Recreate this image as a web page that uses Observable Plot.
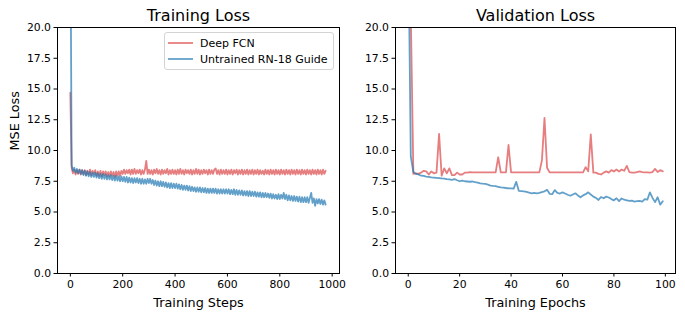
<!DOCTYPE html>
<html><head><meta charset="utf-8">
<script src="https://cdn.jsdelivr.net/npm/d3@7"></script>
<script src="https://cdn.jsdelivr.net/npm/@observablehq/plot@0.6"></script>
<style>
body{margin:0;background:#fff;font-family:"DejaVu Sans",sans-serif;}
#wrap{position:relative;width:685px;height:317px;overflow:hidden;}
#left,#right{position:absolute;top:0;}
#left{left:0;}
#right{left:342px;}
#legend{position:absolute;left:164px;top:32px;width:168px;height:36px;border:1px solid #d4d4d4;border-radius:3px;background:rgba(255,255,255,0.85);font-family:"DejaVu Sans",sans-serif;font-size:11px;color:#000;}
#legend .row{position:absolute;left:0;height:14px;display:flex;align-items:center;}
#legend svg{margin-left:3px;margin-right:7px;}
</style></head><body>
<div id="wrap"><div id="left"></div><div id="right"></div><div id="legend"></div></div>
<script>
const seriesNames = ["Deep FCN", "Untrained RN-18 Guide"];
const seriesColors = ["#d62728", "#1f77b4"];
const seriesOpacity = [0.6, 0.7];
const titles = ["Training Loss", "Validation Loss"];
const xLabels = ["Training Steps", "Training Epochs"];
const yLabel = "MSE Loss";
const yTicks = [0, 2.5, 5, 7.5, 10, 12.5, 15, 17.5, 20];
const trainXTicks = [0, 200, 400, 600, 800, 1000];
const valXTicks = [0, 20, 40, 60, 80, 100];
const trainStepInterval = 5; // one value every 5 training steps

// Training loss, Deep FCN (steps 0,5,10,...,975)
const trainFCN = [
14.7, 8.6, 8.15, 8.45, 8.05, 8.4, 8.1, 8.45, 8.05, 8.4,
8.1, 8.4, 8.0, 8.35, 8.05, 8.45, 8.0, 8.35, 8.1, 8.4,
7.95, 8.3, 7.95, 8.35, 7.9, 8.3, 8.0, 8.3, 7.9, 8.25,
7.9, 8.3, 7.95, 8.25, 7.85, 8.3, 7.95, 8.3, 7.95, 8.35,
8.1, 8.45, 8.1, 8.4, 8.15, 8.45, 8.05, 8.45, 8.1, 8.5,
8.1, 8.4, 8.15, 8.45, 8.05, 8.4, 8.1, 8.45, 9.15, 8.1,
8.45, 8.1, 8.4, 8.05, 8.45, 8.15, 8.5, 8.1, 8.4, 8.05,
8.45, 8.1, 8.4, 8.15, 8.5, 8.05, 8.4, 8.1, 8.45, 8.1,
8.4, 8.05, 8.45, 8.1, 8.5, 8.1, 8.4, 8.05, 8.45, 8.15,
8.4, 8.1, 8.45, 8.05, 8.4, 8.1, 8.5, 8.1, 8.45, 8.05,
8.4, 8.1, 8.45, 8.15, 8.4, 8.05, 8.45, 8.1, 8.4, 8.1,
8.45, 8.55, 8.1, 8.4, 8.05, 8.45, 8.1, 8.4, 8.1, 8.45,
8.05, 8.4, 8.1, 8.45, 8.05, 8.4, 8.15, 8.45, 8.05, 8.4,
8.1, 8.45, 8.05, 8.4, 8.1, 8.45, 8.05, 8.4, 8.1, 8.45,
8.05, 8.4, 8.1, 8.45, 8.05, 8.4, 8.1, 8.35, 8.05, 8.45,
8.1, 8.4, 8.05, 8.45, 8.1, 8.4, 8.05, 8.45, 8.1, 8.4,
8.05, 8.45, 8.1, 8.4, 8.05, 8.45, 8.1, 8.4, 8.05, 8.45,
8.1, 8.4, 8.05, 8.45, 8.1, 8.4, 8.05, 8.45, 8.1, 8.4,
8.05, 8.45, 8.1, 8.4, 8.05, 8.45, 8.1, 8.4, 8.05, 8.45,
8.1, 8.4, 8.05, 8.45, 8.1, 8.35
];

// Training loss, Untrained RN-18 Guide (steps 0,5,10,...,975)
const trainRN18 = [
30, 8.8, 8.35, 8.6, 8.2, 8.5, 8.15, 8.45, 8.1, 8.4,
8.0, 8.35, 7.95, 8.3, 7.9, 8.25, 7.85, 8.2, 7.85, 8.2,
7.8, 8.15, 7.75, 8.1, 7.7, 8.1, 7.7, 8.05, 7.65, 8.0,
7.65, 8.0, 7.6, 7.95, 7.55, 7.95, 7.55, 7.9, 7.5, 7.9,
7.5, 7.85, 7.45, 7.85, 7.4, 7.8, 7.4, 7.75, 7.35, 7.75,
7.4, 7.75, 7.35, 7.7, 7.3, 7.7, 7.3, 7.65, 7.3, 7.7,
7.35, 7.7, 7.3, 7.6, 7.2, 7.55, 7.15, 7.5, 7.1, 7.5,
7.1, 7.45, 7.05, 7.4, 7.0, 7.35, 6.95, 7.35, 6.95, 7.3,
6.95, 7.3, 6.9, 7.25, 6.85, 7.2, 6.8, 7.15, 6.8, 7.15,
6.75, 7.1, 6.7, 7.05, 6.7, 7.0, 6.65, 7.0, 6.65, 7.0,
6.6, 6.95, 6.6, 6.95, 6.55, 6.9, 6.55, 6.9, 6.55, 6.9,
6.55, 6.9, 6.5, 6.85, 6.5, 6.85, 6.5, 6.85, 6.5, 6.85,
6.5, 6.85, 6.45, 6.8, 6.45, 6.85, 6.4, 6.8, 6.4, 6.75,
6.4, 6.75, 6.35, 6.7, 6.35, 6.7, 6.3, 6.7, 6.3, 6.65,
6.3, 6.65, 6.25, 6.6, 6.25, 6.6, 6.2, 6.55, 6.2, 6.55,
6.2, 6.5, 6.15, 6.5, 6.1, 6.45, 6.1, 6.4, 6.05, 6.45,
6.05, 6.4, 6.1, 6.55, 6.05, 6.4, 5.95, 6.35, 5.95, 6.3,
5.9, 6.3, 5.9, 6.25, 5.85, 6.25, 5.8, 6.2, 5.8, 6.2,
5.8, 6.2, 5.75, 6.15, 6.55, 5.75, 6.1, 5.5, 6.05, 5.7,
6.05, 5.65, 6.0, 5.6, 5.95, 5.6
];

// Validation loss per epoch (0..99)
const valFCN = [
40, 21, 8.1, 8.15, 8.1, 8.2, 8.35, 8.3, 8.05, 8.3,
8.15, 8.2, 11.35, 7.95, 8.55, 8.15, 8.55, 8.0, 8.0, 8.2,
8.05, 8.05, 8.2, 8.2, 8.25, 8.22, 8.22, 8.22, 8.22, 8.22,
8.22, 8.22, 8.22, 8.22, 8.22, 9.45, 8.22, 8.22, 8.22, 10.45,
8.22, 8.22, 8.22, 8.22, 8.22, 8.22, 8.22, 8.22, 8.22, 8.22,
8.22, 8.22, 9.2, 12.65, 8.6, 8.22, 8.22, 8.22, 8.22, 8.22,
8.22, 8.22, 8.22, 8.22, 8.22, 8.22, 8.22, 8.22, 8.22, 8.65,
8.3, 11.3, 8.2, 8.2, 8.1, 8.05, 8.2, 8.3, 8.2, 8.4,
8.3, 8.45, 8.3, 8.45, 8.35, 8.75, 8.25, 8.2, 8.2, 8.25,
8.3, 8.25, 8.22, 8.22, 8.2, 8.25, 8.5, 8.25, 8.4, 8.3
];
const valRN18 = [
28, 9.5, 8.25, 8.1, 8.05, 7.95, 7.93, 7.88, 7.85, 7.82,
7.8, 7.78, 7.76, 7.73, 7.72, 7.68, 7.65, 7.62, 7.68, 7.58,
7.5, 7.56, 7.5, 7.48, 7.46, 7.48, 7.42, 7.38, 7.33, 7.3,
7.28, 7.22, 7.15, 7.12, 7.1, 7.05, 7.0, 6.98, 6.95, 6.93,
6.92, 6.9, 7.45, 6.72, 6.7, 6.68, 6.64, 6.58, 6.52, 6.55,
6.52, 6.55, 6.62, 6.68, 6.8, 6.48, 6.45, 6.78, 6.55, 6.5,
6.6, 6.5, 6.4, 6.32, 6.42, 6.52, 6.35, 6.2, 6.35, 6.45,
6.6, 6.42, 6.25, 6.15, 5.98, 6.22, 6.12, 6.25, 6.18, 6.05,
5.95, 6.12, 5.88, 6.1, 6.0, 5.95, 5.9, 5.92, 5.85, 5.88,
5.9, 5.85, 6.05, 6.0, 6.6, 6.15, 5.8, 6.2, 5.6, 5.88
];

const trainRows = [trainFCN, trainRN18].map(arr => arr.map((v, i) => ({x: i * trainStepInterval, y: v})));
const valRows = [valFCN, valRN18].map(arr => arr.map((v, i) => ({x: i, y: v})));

function panel({rows, width, marginLeft, marginRight, xDomain, xTicks, title, xLabel, showYLabel}) {
  const marks = [];
  rows.forEach((r, k) => {
    marks.push(Plot.line(r, {x: "x", y: "y", stroke: seriesColors[k], strokeOpacity: seriesOpacity[k], strokeWidth: 1.8, clip: true}));
  });
  marks.push(Plot.frame({stroke: "#000", strokeWidth: 1}));
  marks.push(Plot.axisX({ticks: xTicks, tickFormat: d3.format("d"), tickSize: 3.5, tickPadding: 3, label: null}));
  marks.push(Plot.axisY({ticks: yTicks, tickFormat: d3.format(".1f"), tickSize: 3.5, tickPadding: 3, label: null}));
  marks.push(Plot.text([title], {text: d => d, frameAnchor: "top", dy: -12, fontSize: 16, lineAnchor: "middle"}));
  marks.push(Plot.text([xLabel], {text: d => d, frameAnchor: "bottom", dy: 29, fontSize: 12.8, lineAnchor: "middle"}));
  if (showYLabel) marks.push(Plot.text([yLabel], {text: d => d, frameAnchor: "left", dx: -43, rotate: -90, fontSize: 12.8, lineAnchor: "middle"}));
  return Plot.plot({
    width, height: 317, marginLeft, marginRight, marginTop: 27, marginBottom: 44,
    style: {fontFamily: "DejaVu Sans", fontSize: "10.8px", color: "#000", background: "transparent", overflow: "visible"},
    x: {domain: xDomain},
    y: {domain: [0, 20]},
    marks
  });
}

document.getElementById("left").appendChild(panel({
  rows: trainRows, width: 342, marginLeft: 57, marginRight: 3,
  xDomain: [-49, 1028], xTicks: trainXTicks, title: titles[0], xLabel: xLabels[0], showYLabel: true
}));
document.getElementById("right").appendChild(panel({
  rows: valRows, width: 343, marginLeft: 53, marginRight: 10,
  xDomain: [-4.95, 103.95], xTicks: valXTicks, title: titles[1], xLabel: xLabels[1], showYLabel: false
}));

const legend = document.getElementById("legend");
seriesNames.forEach((name, k) => {
  const row = document.createElement("div");
  row.className = "row";
  row.style.top = (3 + k * 16) + "px";
  row.innerHTML = `<svg width="25" height="4"><line x1="0" y1="2" x2="25" y2="2" stroke="${seriesColors[k]}" stroke-opacity="${seriesOpacity[k]}" stroke-width="1.8"/></svg><span>${name}</span>`;
  legend.appendChild(row);
});
</script>
</body></html>
